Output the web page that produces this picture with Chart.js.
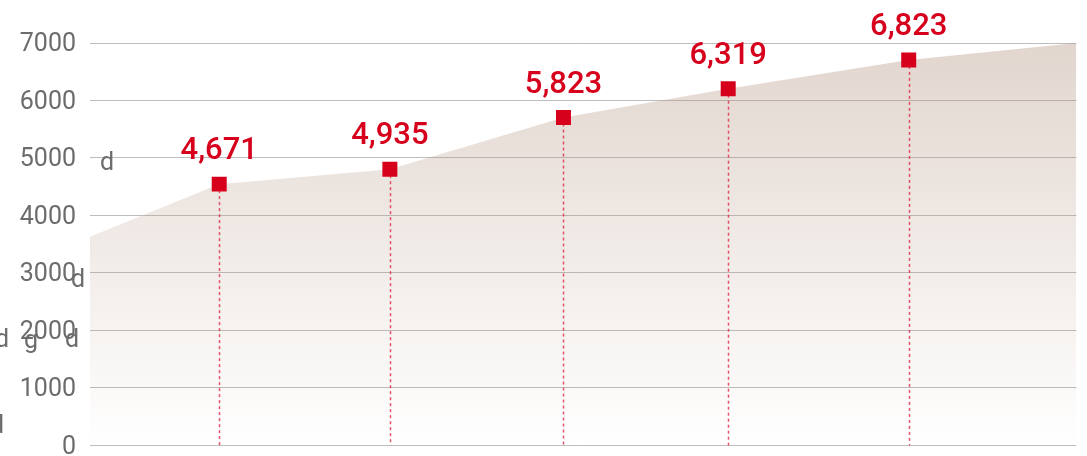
<!DOCTYPE html>
<html>
<head>
<meta charset="utf-8">
<script src="https://cdn.jsdelivr.net/npm/chart.js@4"></script>
<style>
  html, body { margin: 0; padding: 0; background: #ffffff; overflow: hidden; }
  #wrap { position: relative; width: 1087px; height: 456px; }
</style>
</head>
<body>
<div id="wrap"><canvas id="c" width="1087" height="456"></canvas></div>
<script>
// ---- data ----
const pointX      = [1.31, 3.04, 4.80, 6.47, 8.30];
const pointValues = [4545, 4805, 5703, 6205, 6706];
const pointLabels = ['4,671', '4,935', '5,823', '6,319', '6,823'];
const areaX       = [0, 1.31, 3.04, 4.80, 6.47, 8.30, 10];
const areaValues  = [3630, 4545, 4805, 5703, 6205, 6706, 7000];
const yTicks      = [0, 1000, 2000, 3000, 4000, 5000, 6000, 7000];
const strayTexts  = ['d', 'd', 'd', 'g', 'd', 'd'];

const RED = '#d7001c';
const TICK_FONT = { family: 'Roboto', size: 25, weight: '400' };

const areaPts = areaX.map((x, i) => ({ x: x, y: areaValues[i] }));
const markPts = pointX.map((x, i) => ({ x: x, y: pointValues[i] }));

const overlay = {
  id: 'overlay',
  afterDatasetDraw(chart, args) {
    if (args.index !== 0) return;
    const ctx = chart.ctx, xs = chart.scales.x, ys = chart.scales.y;
    ctx.save();
    ctx.strokeStyle = 'rgba(222,40,70,0.8)';
    ctx.lineWidth = 1.5;
    ctx.setLineDash([3, 3]);
    pointX.forEach((x, i) => {
      const px = Math.round(xs.getPixelForValue(x)) + 0.5;
      ctx.beginPath();
      ctx.moveTo(px, ys.getPixelForValue(pointValues[i]));
      ctx.lineTo(px, ys.getPixelForValue(0));
      ctx.stroke();
    });
    ctx.restore();
  },
  afterDatasetsDraw(chart) {
    const ctx = chart.ctx, xs = chart.scales.x, ys = chart.scales.y;
    ctx.save();
    ctx.fillStyle = RED;
    ctx.font = '500 31px Roboto';
    ctx.textAlign = 'center';
    ctx.textBaseline = 'alphabetic';
    pointX.forEach((x, i) => {
      ctx.fillText(pointLabels[i], xs.getPixelForValue(x), ys.getPixelForValue(pointValues[i]) - 25);
    });
    // stray glyphs present in the reference
    ctx.fillStyle = '#6c6c6c';
    ctx.font = '400 25px Roboto';
    ctx.textAlign = 'left';
    const spots = [[100, 170], [71, 287], [-5, 347], [24, 348], [65, 347], [-10, 433]];
    strayTexts.forEach((t, i) => ctx.fillText(t, spots[i][0], spots[i][1]));
    ctx.restore();
  }
};

new Chart(document.getElementById('c'), {
  type: 'line',
  data: {
    datasets: [
      {
        order: 2,
        data: areaPts,
        fill: 'origin',
        borderWidth: 0,
        borderColor: 'rgba(0,0,0,0)',
        pointRadius: 0,
        tension: 0,
        backgroundColor(ctx) {
          const ca = ctx.chart.chartArea;
          if (!ca) return 'rgba(200,180,170,0.3)';
          const g = ctx.chart.ctx.createLinearGradient(0, ca.top, 0, ca.bottom);
          g.addColorStop(0, 'rgba(178,146,126,0.38)');
          g.addColorStop(0.5, 'rgba(178,146,126,0.19)');
          g.addColorStop(1, 'rgba(178,146,126,0.0)');
          return g;
        }
      },
      {
        order: 1,
        data: markPts,
        showLine: false,
        pointStyle: 'rect',
        pointRadius: 10.6,
        pointHoverRadius: 10.6,
        pointBackgroundColor: RED,
        pointBorderWidth: 0,
        pointBorderColor: RED
      }
    ]
  },
  options: {
    responsive: false,
    animation: false,
    events: [],
    layout: { padding: { top: 43, bottom: 8, right: 7, left: 0 } },
    plugins: { legend: { display: false }, tooltip: { enabled: false } },
    scales: {
      x: { type: 'linear', min: 0, max: 10, display: false },
      y: {
        min: 0, max: 7000,
        afterBuildTicks(scale) { scale.ticks = yTicks.map(v => ({ value: v })); },
        afterFit(scale) { scale.width = 90; scale.paddingTop = 0; scale.paddingBottom = 0; },
        border: { display: false },
        grid: { color: '#bdbdbd', lineWidth: 1, drawTicks: false },
        ticks: { color: '#6c6c6c', font: TICK_FONT, padding: 14, labelOffset: 2, callback: v => String(v) }
      }
    }
  },
  plugins: [overlay]
});
</script>
</body>
</html>
